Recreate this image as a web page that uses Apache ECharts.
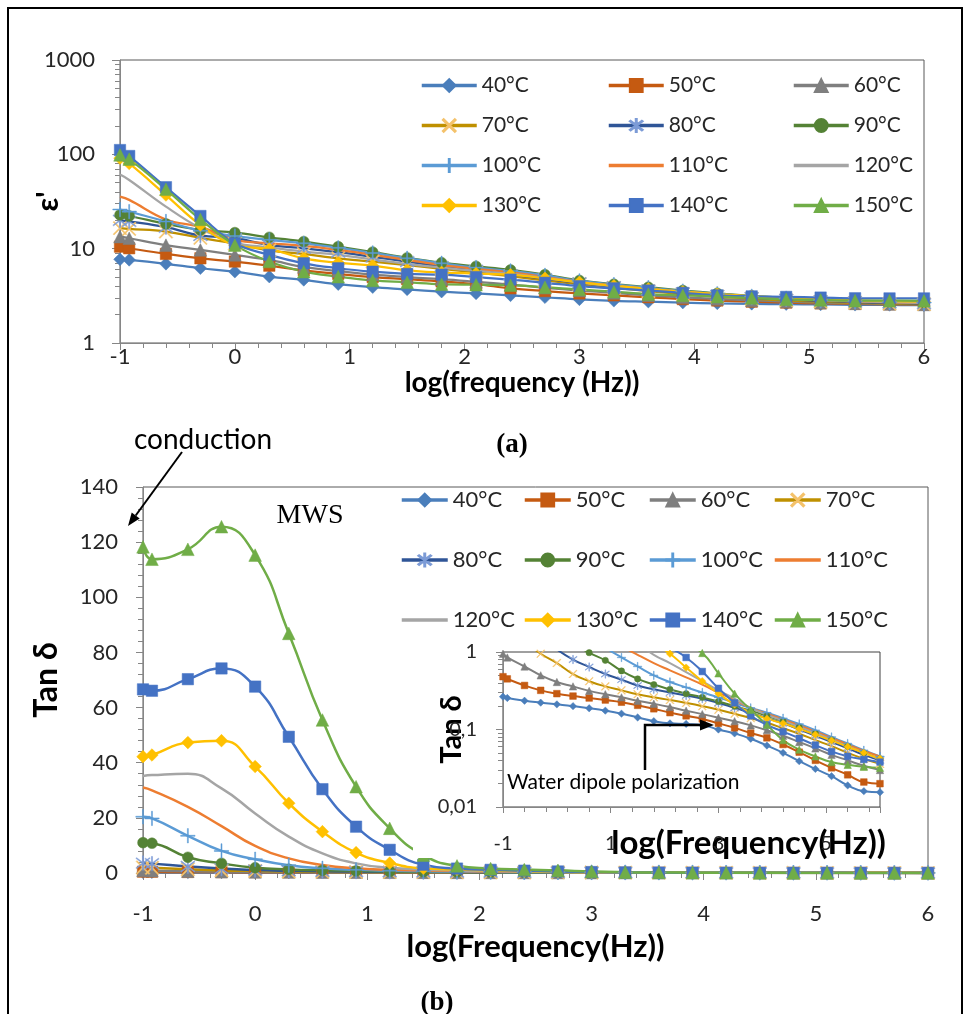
<!DOCTYPE html>
<html>
<head>
<meta charset="utf-8">
<title>permittivity and tan delta</title>
<script src="https://cdn.jsdelivr.net/npm/echarts@6/dist/echarts.min.js"></script>
<style>
  html, body { margin: 0; padding: 0; background: #fff; }
  #main { width: 972px; height: 1014px; }
</style>
</head>
<body>
<div id="main"></div>
<script>
// x values: log(frequency) of the measured points
var logF = [-1, -0.92, -0.6, -0.3, 0, 0.3, 0.6, 0.9, 1.2, 1.5, 1.8, 2.1, 2.4, 2.7, 3.0, 3.3, 3.6, 3.9, 4.2, 4.5, 4.8, 5.1, 5.4, 5.7, 6.0];
var temps = ['40°C', '50°C', '60°C', '70°C', '80°C', '90°C', '100°C', '110°C', '120°C', '130°C', '140°C', '150°C'];

// (a) epsilon'
var eps40  = [7.7, 7.6, 6.9, 6.2, 5.7, 5.05, 4.66, 4.2, 3.9, 3.7, 3.5, 3.35, 3.2, 3.05, 2.9, 2.8, 2.74, 2.68, 2.63, 2.6, 2.58, 2.56, 2.54, 2.53, 2.52];
var eps50  = [10.5, 10.1, 8.8, 7.9, 7.3, 6.6, 5.9, 5.4, 5.0, 4.75, 4.5, 4.2, 3.8, 3.55, 3.35, 3.2, 3.05, 2.92, 2.82, 2.74, 2.68, 2.63, 2.6, 2.57, 2.55];
var eps60  = [13.4, 12.9, 10.9, 9.7, 8.6, 7.6, 6.4, 5.8, 5.3, 5.0, 4.75, 4.45, 4.15, 3.85, 3.6, 3.4, 3.2, 3.05, 2.93, 2.83, 2.75, 2.68, 2.63, 2.59, 2.56];
var eps70  = [16.5, 16.2, 15.2, 13.0, 11.3, 9.6, 8.8, 7.9, 7.3, 6.7, 6.1, 5.6, 5.1, 4.6, 4.2, 3.85, 3.55, 3.3, 3.1, 2.95, 2.83, 2.74, 2.67, 2.62, 2.58];
var eps80  = [20.0, 19.5, 16.9, 13.8, 12.9, 10.9, 10.1, 9.2, 8.2, 7.3, 6.5, 5.9, 5.3, 4.8, 4.35, 3.95, 3.65, 3.4, 3.2, 3.03, 2.9, 2.8, 2.72, 2.66, 2.62];
var eps90  = [22.8, 22.2, 18.3, 15.8, 14.8, 13.2, 11.9, 10.5, 9.2, 8.0, 7.1, 6.5, 5.95, 5.3, 4.6, 4.2, 3.9, 3.6, 3.36, 3.15, 3.0, 2.88, 2.8, 2.74, 2.7];
var eps100 = [26, 24.7, 19.4, 15.5, 13.6, 12.4, 11.4, 10.2, 9.0, 7.9, 7.0, 6.3, 5.8, 5.2, 4.55, 4.15, 3.85, 3.55, 3.32, 3.12, 2.97, 2.86, 2.78, 2.72, 2.68];
var eps110 = [35.6, 32.9, 20.4, 17.0, 12.4, 11.4, 10.7, 9.7, 8.6, 7.6, 6.7, 6.1, 5.6, 5.0, 4.45, 4.05, 3.75, 3.48, 3.27, 3.09, 2.95, 2.84, 2.76, 2.7, 2.66];
var eps120 = [61, 53.5, 27.9, 16.5, 11.6, 10.3, 9.3, 8.6, 7.7, 6.9, 6.3, 5.8, 5.4, 4.9, 4.4, 4.0, 3.7, 3.45, 3.25, 3.08, 2.95, 2.85, 2.77, 2.71, 2.67];
var eps130 = [91, 80, 37, 17.8, 10.9, 9.9, 7.9, 7.1, 6.6, 5.9, 5.6, 5.45, 5.3, 4.85, 4.4, 4.05, 3.75, 3.5, 3.3, 3.13, 3.0, 2.9, 2.83, 2.78, 2.75];
var eps140 = [111, 96, 44.8, 22.2, 11.4, 8.6, 7.0, 6.2, 5.7, 5.4, 5.3, 5.0, 4.7, 4.35, 4.0, 3.8, 3.6, 3.4, 3.2, 3.12, 3.08, 3.03, 2.98, 2.97, 2.97];
var eps150 = [98.6, 89, 42.6, 20.4, 10.9, 7.3, 5.7, 5.05, 4.6, 4.4, 4.2, 4.15, 4.1, 3.9, 3.7, 3.5, 3.3, 3.2, 3.1, 3.0, 2.9, 2.86, 2.81, 2.81, 2.8];

// (b) tan delta (main plot and log inset)
var tan40  = [0.265, 0.255, 0.235, 0.222, 0.211, 0.2, 0.188, 0.175, 0.16, 0.143, 0.128, 0.12, 0.118, 0.114, 0.1, 0.089, 0.076, 0.062, 0.05, 0.039, 0.031, 0.025, 0.019, 0.016, 0.0155];
var tan50  = [0.48, 0.45, 0.37, 0.32, 0.29, 0.27, 0.255, 0.24, 0.225, 0.205, 0.185, 0.165, 0.15, 0.137, 0.12, 0.105, 0.09, 0.078, 0.064, 0.051, 0.04, 0.032, 0.026, 0.021, 0.02];
var tan60  = [0.95, 0.85, 0.65, 0.5, 0.41, 0.36, 0.315, 0.285, 0.26, 0.235, 0.215, 0.195, 0.175, 0.158, 0.142, 0.128, 0.113, 0.098, 0.083, 0.069, 0.057, 0.047, 0.04, 0.034, 0.03];
var tan70  = [2.0, 1.9, 1.35, 0.95, 0.72, 0.52, 0.42, 0.36, 0.32, 0.285, 0.26, 0.24, 0.22, 0.2, 0.18, 0.16, 0.14, 0.122, 0.104, 0.088, 0.073, 0.061, 0.05, 0.042, 0.036];
var tan80  = [3.6, 3.4, 2.4, 1.6, 1.08, 0.8, 0.64, 0.52, 0.44, 0.37, 0.33, 0.3, 0.275, 0.25, 0.22, 0.19, 0.165, 0.14, 0.12, 0.1, 0.083, 0.069, 0.057, 0.047, 0.04];
var tan90  = [11, 10.8, 5.7, 3.5, 1.9, 1.3, 0.98, 0.78, 0.57, 0.45, 0.38, 0.33, 0.29, 0.26, 0.23, 0.2, 0.175, 0.15, 0.128, 0.107, 0.089, 0.074, 0.061, 0.05, 0.042];
var tan100 = [20.4, 19.8, 13.5, 8.0, 5.0, 2.8, 1.7, 1.15, 0.85, 0.65, 0.5, 0.41, 0.35, 0.3, 0.26, 0.22, 0.19, 0.165, 0.14, 0.118, 0.098, 0.08, 0.066, 0.054, 0.045];
var tan110 = [31, 30, 24, 17, 9.8, 5.3, 2.9, 1.7, 1.2, 0.92, 0.72, 0.58, 0.47, 0.38, 0.3, 0.24, 0.19, 0.16, 0.135, 0.113, 0.094, 0.078, 0.064, 0.053, 0.045];
var tan120 = [35.2, 35.5, 36, 30.7, 21.6, 13.2, 7.1, 3.5, 1.9, 1.3, 0.92, 0.72, 0.55, 0.42, 0.32, 0.25, 0.19, 0.155, 0.13, 0.108, 0.09, 0.074, 0.061, 0.05, 0.041];
var tan130 = [42.2, 42.8, 47.3, 48, 38.6, 25.3, 15, 7.4, 3.6, 1.7, 1.3, 0.95, 0.63, 0.42, 0.29, 0.21, 0.165, 0.138, 0.12, 0.102, 0.086, 0.072, 0.06, 0.05, 0.042];
var tan140 = [66.6, 66.1, 70.3, 74.2, 67.6, 49.4, 30.4, 16.8, 8.4, 3.0, 1.6, 1.15, 0.85, 0.56, 0.34, 0.22, 0.15, 0.115, 0.094, 0.077, 0.063, 0.052, 0.045, 0.041, 0.038];
var tan150 = [118.3, 113.8, 117.4, 125.6, 115.3, 86.9, 55.5, 31.3, 16.2, 6.5, 2.6, 1.6, 1.25, 0.97, 0.53, 0.29, 0.18, 0.115, 0.073, 0.055, 0.045, 0.038, 0.035, 0.033, 0.032];

var epsAll = [eps40, eps50, eps60, eps70, eps80, eps90, eps100, eps110, eps120, eps130, eps140, eps150];
var tanAll = [tan40, tan50, tan60, tan70, tan80, tan90, tan100, tan110, tan120, tan130, tan140, tan150];

// tick labels
var epsTickLabels = ['1', '10', '100', '1000'];
var insetTickLabels = ['0,01', '0,1', '1'];
var epsMinorTicks = [2, 3, 4, 5, 6, 7, 8, 9, 20, 30, 40, 50, 60, 70, 80, 90, 200, 300, 400, 500, 600, 700, 800, 900];
var insetMinorTicks = [0.02, 0.03, 0.04, 0.05, 0.06, 0.07, 0.08, 0.09, 0.2, 0.3, 0.4, 0.5, 0.6, 0.7, 0.8, 0.9];

var FONT = 'Lato, "Open Sans", "DejaVu Sans", sans-serif';

// marker shapes
var X_PATH = 'path://M2.4,3.4l1,-1l14.2,14.2l-1,1z M16.6,2.4l1,1l-14.2,14.2l-1,-1z';
var PLUS_PATH = 'path://M9.3,0h1.4v20h-1.4z M0,9.3h20v1.4h-20z';
var STAR_PATH = 'path://M9.4,0h1.2v20h-1.2z M2.4,3.4l0.9,-0.9l14.3,14.3l-0.9,0.9z M16.7,2.5l0.9,0.9l-14.3,14.3l-0.9,-0.9z';

var lineColors = ['#4A7EBB', '#C55A11', '#7F7F7F', '#BF9000', '#2F5597', '#548235', '#5B9BD5', '#ED7D31', '#A5A5A5', '#FFC000', '#4472C4', '#70AD47'];
var markColors = ['#4A7EBB', '#C55A11', '#7F7F7F', '#F4C26B', '#7C9BD6', '#548235', '#5B9BD5', '#ED7D31', '#A5A5A5', '#FFC000', '#4472C4', '#70AD47'];
var symbols = ['diamond', 'rect', 'triangle', X_PATH, STAR_PATH, 'circle', PLUS_PATH, 'none', 'none', 'diamond', 'rect', 'triangle'];
var symScale = [1.05, 0.95, 1.05, 1.15, 1.2, 0.9, 1.2, 1, 1, 1.05, 0.95, 1.05];

function makeSeries(values, xi, yi, size, lw, z, smooth) {
  return temps.map(function (t, i) {
    return {
      name: t,
      type: 'line',
      xAxisIndex: xi,
      yAxisIndex: yi,
      z: z,
      smooth: smooth,
      data: logF.map(function (x, k) { return [x, values[i][k]]; }),
      symbol: symbols[i],
      symbolSize: size * symScale[i],
      showSymbol: symbols[i] !== 'none',
      lineStyle: { color: lineColors[i], width: lw },
      itemStyle: { color: markColors[i], borderColor: markColors[i], borderWidth: 0.5 },
      emphasis: { disabled: true },
      animation: false
    };
  });
}

function legendCol(idx, left, top, gap, w, fs) {
  return {
    data: idx.map(function (i) {
      var item = { name: temps[i] };
      if (symbols[i] === 'none') item.itemStyle = { opacity: 0 };
      return item;
    }),
    orient: 'vertical',
    left: left,
    top: top,
    itemGap: gap,
    itemWidth: w,
    itemHeight: 16,
    padding: 0,
    selectedMode: false,
    lineStyle: { width: 3.5 },
    textStyle: { fontSize: fs, color: '#262626', fontFamily: FONT }
  };
}

var axisGray = '#868686';
var labelColor = '#262626';

var chart = echarts.init(document.getElementById('main'), null, { renderer: 'canvas' });

var option = {
  animation: false,
  backgroundColor: '#fff',
  textStyle: { fontFamily: FONT },
  grid: [
    { left: 120, top: 60, width: 804, height: 283, show: true, borderColor: '#595959', borderWidth: 1 },
    { left: 143, top: 487, width: 785, height: 386, show: true, borderColor: '#595959', borderWidth: 1 },
    { left: 503, top: 652, width: 377, height: 155, show: true, borderColor: '#404040', borderWidth: 1, z: 10 },
    { left: 120, top: 60, width: 804, height: 283 },
    { left: 503, top: 652, width: 377, height: 155, z: 10 }
  ],
  xAxis: [
    {
      gridIndex: 0, type: 'value', min: -1, max: 6, interval: 1,
      axisLine: { onZero: false, lineStyle: { color: axisGray } },
      axisTick: { length: 7, lineStyle: { color: axisGray } },
      minorTick: { show: true, splitNumber: 5, length: 5, lineStyle: { color: axisGray } },
      splitLine: { show: false },
      axisLabel: { fontSize: 22, color: labelColor, margin: 3 },
      name: 'log(frequency (Hz))', nameLocation: 'middle', nameGap: 26, nameMoveOverlap: false,
      nameTextStyle: { fontSize: 28, fontWeight: 'bold', color: '#000' }
    },
    {
      gridIndex: 1, type: 'value', min: -1, max: 6, interval: 1,
      axisLine: { onZero: false, lineStyle: { color: axisGray } },
      axisTick: { length: 7, lineStyle: { color: axisGray } },
      minorTick: { show: true, splitNumber: 5, length: 5, lineStyle: { color: axisGray } },
      splitLine: { show: false },
      axisLabel: { fontSize: 22, color: labelColor, margin: 30 },
      name: 'log(Frequency(Hz))', nameLocation: 'middle', nameGap: 58, nameMoveOverlap: false,
      nameTextStyle: { fontSize: 31, fontWeight: 'bold', color: '#000' }
    },
    {
      gridIndex: 2, type: 'value', min: -1, max: 6, interval: 2, z: 10,
      axisLine: { onZero: false, lineStyle: { color: axisGray } },
      axisTick: { length: 6, lineStyle: { color: axisGray } },
      minorTick: { show: true, splitNumber: 5, length: 5, lineStyle: { color: axisGray } },
      splitLine: { show: false },
      axisLabel: { fontSize: 20, color: labelColor, margin: 27, showMaxLabel: false },
      name: 'log(Frequency(Hz))', nameLocation: 'middle', nameGap: 20, nameMoveOverlap: false,
      nameTextStyle: { fontSize: 33, fontWeight: 'bold', color: '#000', padding: [0, 0, 0, 114] }
    },
    { gridIndex: 3, type: 'value', min: -1, max: 6, show: false },
    { gridIndex: 4, type: 'value', min: -1, max: 6, show: false }
  ],
  yAxis: [
    {
      gridIndex: 0, type: 'log', logBase: 10, min: 1, max: 1000,
      axisLine: { show: true, onZero: false, lineStyle: { color: axisGray } },
      axisTick: { show: true, length: 8, lineStyle: { color: axisGray } },
      splitLine: { show: false },
      axisLabel: { fontSize: 22, color: labelColor, margin: 25,
        formatter: function (v, i) { return epsTickLabels[i]; } },
      name: "ε'", nameLocation: 'middle', nameGap: 57, nameRotate: 90, nameMoveOverlap: false,
      nameTextStyle: { fontSize: 30, fontWeight: 'bold', color: '#000' }
    },
    {
      gridIndex: 1, type: 'value', min: 0, max: 140, interval: 20,
      axisLine: { show: true, onZero: false, lineStyle: { color: axisGray } },
      axisTick: { show: true, length: 7, lineStyle: { color: axisGray } },
      minorTick: { show: true, splitNumber: 5, length: 5, lineStyle: { color: axisGray } },
      splitLine: { show: false },
      axisLabel: { fontSize: 22, color: labelColor, margin: 25 },
      name: 'Tan δ', nameLocation: 'middle', nameGap: 80, nameRotate: 90, nameMoveOverlap: false,
      nameTextStyle: { fontSize: 32, fontWeight: 'bold', color: '#000' }
    },
    {
      gridIndex: 2, type: 'log', logBase: 10, min: 0.01, max: 1, z: 10,
      axisLine: { show: true, onZero: false, lineStyle: { color: axisGray } },
      axisTick: { show: true, length: 7, lineStyle: { color: axisGray } },
      splitLine: { show: false },
      axisLabel: { fontSize: 20, color: labelColor, margin: 26,
        formatter: function (v, i) { return insetTickLabels[i]; } },
      name: 'Tan δ', nameLocation: 'middle', nameGap: 37, nameRotate: 90, nameMoveOverlap: false,
      nameTextStyle: { fontSize: 29, fontWeight: 'bold', color: '#000' }
    },
    {
      gridIndex: 3, type: 'value', min: 0, max: 3,
      axisLine: { show: false, onZero: false }, axisLabel: { show: false }, splitLine: { show: false },
      axisTick: { show: true, length: 5, lineStyle: { color: axisGray },
        customValues: epsMinorTicks.map(function (v) { return Math.log10(v); }) }
    },
    {
      gridIndex: 4, type: 'value', min: -2, max: 0, z: 10,
      axisLine: { show: false, onZero: false }, axisLabel: { show: false }, splitLine: { show: false },
      axisTick: { show: true, length: 5, lineStyle: { color: axisGray },
        customValues: insetMinorTicks.map(function (v) { return Math.log10(v); }) }
    }
  ],
  legend: [
    legendCol([0, 3, 6, 9], 420, 75, 19, 55, 21),
    legendCol([1, 4, 7, 10], 607, 75, 19, 55, 21),
    legendCol([2, 5, 8, 11], 792, 75, 19, 55, 21),
    legendCol([0, 4, 8], 400, 489, 38, 46, 22),
    legendCol([1, 5, 9], 523, 489, 38, 46, 22),
    legendCol([2, 6, 10], 648, 489, 38, 46, 22),
    legendCol([3, 7, 11], 773, 489, 38, 46, 22)
  ],
  series: []
    .concat(makeSeries(epsAll, 0, 0, 12, 2.25, 2, 0.4))
    .concat(makeSeries(tanAll, 1, 1, 12, 2.5, 2, true))
    .concat(makeSeries(tanAll, 2, 2, 7, 2, 11, true)),
  graphic: [
    // white background of the inset
    { type: 'rect', z: 5, silent: true, shape: { x: 413, y: 636, width: 492, height: 222 }, style: { fill: '#fff' } },
    // annotations
    { type: 'text', z: 12, x: 203, y: 440, style: { text: 'conduction', font: '28px ' + FONT, fill: '#000', align: 'center', verticalAlign: 'middle' } },
    { type: 'line', z: 12, shape: { x1: 182, y1: 452, x2: 135.7, y2: 515.5 }, style: { stroke: '#000', lineWidth: 2 } },
    { type: 'polygon', z: 12, shape: { points: [[128, 526], [139.7, 518.4], [131.7, 512.6]] }, style: { fill: '#000' } },
    { type: 'text', z: 12, x: 310, y: 516, style: { text: 'MWS', font: '28px "Liberation Serif", "Times New Roman", serif', fill: '#000', align: 'center', verticalAlign: 'middle' } },
    { type: 'text', z: 12, x: 512, y: 445, style: { text: '(a)', font: 'bold 27px "Liberation Serif", "Times New Roman", serif', fill: '#000', align: 'center', verticalAlign: 'middle' } },
    { type: 'text', z: 12, x: 437, y: 1003, style: { text: '(b)', font: 'bold 27px "Liberation Serif", "Times New Roman", serif', fill: '#000', align: 'center', verticalAlign: 'middle' } },
    { type: 'text', z: 12, x: 507, y: 782, style: { text: 'Water dipole polarization', font: '21px ' + FONT, fill: '#000', align: 'left', verticalAlign: 'middle' } },
    { type: 'polyline', z: 12, shape: { points: [[645, 770], [645, 725], [701, 725]] }, style: { stroke: '#000', lineWidth: 2.5, fill: null } },
    { type: 'polygon', z: 12, shape: { points: [[714, 725], [700, 719.5], [700, 730.5]] }, style: { fill: '#000' } },
    // page frame
    { type: 'rect', z: 20, silent: true, shape: { x: 8, y: 8, width: 954, height: 1030 }, style: { fill: 'none', stroke: '#000', lineWidth: 2 } }
  ]
};

chart.setOption(option);
window.addEventListener('resize', chart.resize);
</script>
</body>
</html>
